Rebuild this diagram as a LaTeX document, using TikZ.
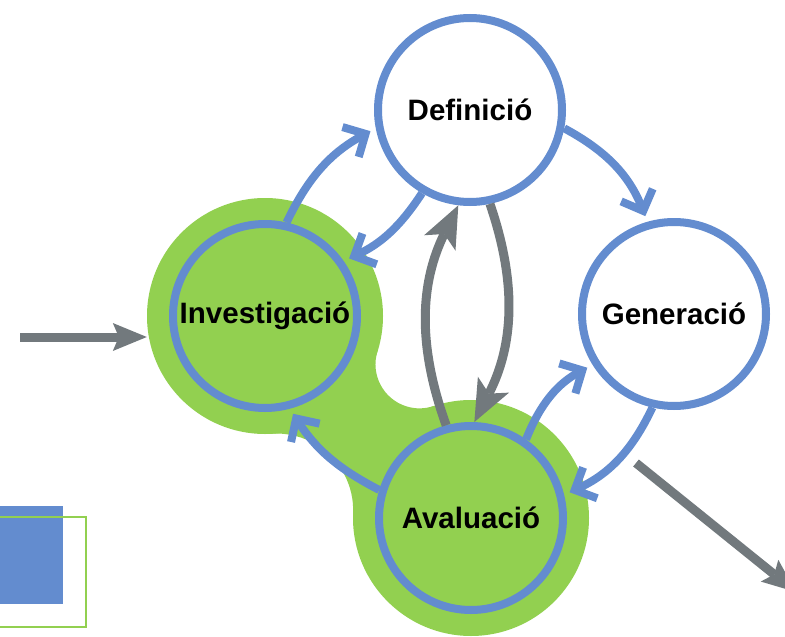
\documentclass[tikz,border=0pt]{standalone}
\usepackage{fontspec}
\setmainfont{Liberation Sans}
\usetikzlibrary{arrows.meta,calc}
\definecolor{cblue}{RGB}{99,140,207}
\definecolor{cgreen}{RGB}{146,208,80}
\definecolor{cgray}{RGB}{114,121,125}
\begin{document}
\begin{tikzpicture}[x=1pt,y=-1pt,
  stage/.style={circle, draw=cblue, line width=8pt, minimum size=184pt, inner sep=0pt,
    font=\fontsize{29.5}{33}\selectfont\bfseries},
  halo/.style={circle, fill=cgreen, minimum size=236pt, inner sep=0pt},
  barrow/.style={draw=cblue, line width=8pt, shorten >=6pt, -{Straight Barb[length=17pt,width=34pt]}},
  garrow/.style={draw=cgray, line width=9pt, -{Stealth[length=42pt,width=35pt,inset=10pt,line width=0pt]}},
  sarrow/.style={draw=cgray, line width=9pt, -{Stealth[length=34pt,width=28pt,inset=6pt,line width=0pt]}},
]
\path[use as bounding box] (0,0) rectangle (785,637);
\clip (0,0) rectangle (785,637);

% bottom-left rectangles
\fill[cblue] (-5,506) rectangle (63,604);
\draw[cgreen, line width=2.5pt] (-5,517) rectangle (86,627);

% green bridge between the two halos
\fill[cgreen] (265,316) -- (377.5,351.2) arc[start angle=197.4, end angle=71.5, radius=44]
  -- (471,518) -- (353.1,513.3) arc[start angle=2.3, end angle=-93.4, radius=76.7] -- cycle;

% halos
\node[halo] (Ih) at (265,316) {};
\node[halo] (Ah) at (471,518) {};

% stages
\node[stage, fill=white]  (D) at (470,110) {Definició};
\node[stage, fill=white]  (G) at (674,314) {Generació};
\node[stage, fill=cgreen] (I) at (265,316) {Investigació};
\node[stage, fill=cgreen] (A) at (471,518) {Avaluació};

% blue connectors
\draw[barrow] (I.77) to[bend left=18] (D.191);
\draw[barrow] (D.240) to[bend left=16] (I.35);
\draw[barrow] (D.-11) to[bend left=20] (G.106);
\draw[barrow] (G.257) to[bend left=20] (A.14);
\draw[barrow] (A.55) to[bend left=20] (G.212);
\draw[barrow] (A.163) to[bend left=15] (I.285);

% gray connectors
\draw[garrow] (A.105) to[bend left=23] (D.263);
\draw[garrow] (D.282) to[bend left=23] (A.88);

\coordinate (inS) at (20,337);
\draw[sarrow] (inS) -- (inS -| Ih.west);
\coordinate (outS) at (636,463);
\coordinate (outE) at (796,592);
\draw[sarrow] (outS) -- (outE);
\end{tikzpicture}
\end{document}
